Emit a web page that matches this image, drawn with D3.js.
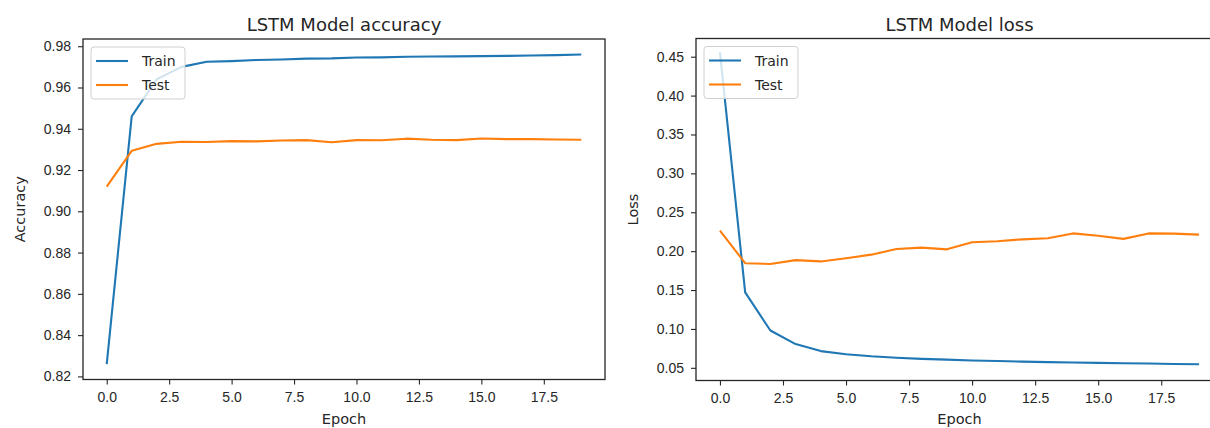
<!DOCTYPE html>
<html>
<head>
<meta charset="utf-8">
<script src="https://cdn.jsdelivr.net/npm/d3@7"></script>
<style>
  html, body { margin: 0; padding: 0; background: #fff; }
  svg { display: block; font-family: "DejaVu Sans", sans-serif; }
  .axis text { font-size: 14px; fill: #262626; }
  .axis line { stroke: #262626; stroke-width: 1.1; }
</style>
</head>
<body>
<div id="chart"></div>
<script>
// epochs 0..19
const epochs = d3.range(20);

const accTrain = [0.826, 0.946, 0.964, 0.970, 0.9725, 0.9728, 0.9733, 0.9736, 0.974, 0.9741,
                  0.9745, 0.9746, 0.9749, 0.975, 0.9751, 0.9752, 0.9753, 0.9755, 0.9757, 0.976];
const accTest = [0.912, 0.9293, 0.9327, 0.9337, 0.9336, 0.934, 0.9339, 0.9343, 0.9345, 0.9335,
                 0.9345, 0.9344, 0.9352, 0.9347, 0.9345, 0.9353, 0.935, 0.935, 0.9348, 0.9347];

const lossTrain = [0.4557, 0.147, 0.098, 0.0805, 0.0715, 0.0675, 0.0648, 0.063, 0.0615, 0.0605,
                   0.0595, 0.0588, 0.058, 0.0573, 0.0568, 0.0563, 0.0558, 0.0555, 0.055, 0.0545];
const lossTest = [0.2265, 0.1845, 0.1835, 0.1885, 0.1868, 0.1908, 0.1955, 0.2028, 0.2045, 0.2023,
                  0.2115, 0.2128, 0.2152, 0.2165, 0.2228, 0.2198, 0.2158, 0.2228, 0.2225, 0.2213];

const accTicks = [0.82, 0.84, 0.86, 0.88, 0.90, 0.92, 0.94, 0.96, 0.98];
const lossTicks = [0.05, 0.10, 0.15, 0.20, 0.25, 0.30, 0.35, 0.40, 0.45];
const epochTicks = [0, 2.5, 5, 7.5, 10, 12.5, 15, 17.5];

const seriesNames = ['Train', 'Test'];
const colors = ['#1f77b4', '#ff7f0e'];

const W = 1210, H = 428;
const svg = d3.select('#chart').append('svg')
    .attr('width', W)
    .attr('height', H);

function drawPanel(opt) {
    const x = d3.scaleLinear().domain([-0.95, 19.95]).range([opt.left, opt.right]);
    const y = d3.scaleLinear().domain(opt.yDomain).range([opt.bottom, opt.top]);
    const g = svg.append('g');

    // lines
    const line = d3.line().x((d, i) => x(epochs[i])).y(d => y(d));
    opt.series.forEach((s, k) => {
        g.append('path')
            .datum(s)
            .attr('d', line)
            .attr('fill', 'none')
            .attr('stroke', colors[k])
            .attr('stroke-width', 2.1)
            .attr('stroke-linejoin', 'round');
    });

    // axes
    const xa = g.append('g')
        .attr('class', 'axis')
        .attr('transform', `translate(0,${opt.bottom})`)
        .call(d3.axisBottom(x).tickValues(epochTicks).tickFormat(d3.format('.1f'))
            .tickSizeInner(5).tickSizeOuter(0).tickPadding(8));
    xa.select('.domain').remove();

    const ya = g.append('g')
        .attr('class', 'axis')
        .attr('transform', `translate(${opt.left},0)`)
        .call(d3.axisLeft(y).tickValues(opt.yTicks).tickFormat(d3.format('.2f'))
            .tickSizeInner(5).tickSizeOuter(0).tickPadding(7));
    ya.select('.domain').remove();

    // frame
    g.append('rect')
        .attr('x', opt.left)
        .attr('y', opt.top)
        .attr('width', opt.right - opt.left)
        .attr('height', opt.bottom - opt.top)
        .attr('fill', 'none')
        .attr('stroke', '#262626')
        .attr('stroke-width', 1.3);

    // title and labels
    const cx = (opt.left + opt.right) / 2;
    g.append('text')
        .attr('x', cx).attr('y', 31)
        .attr('text-anchor', 'middle')
        .attr('font-size', 18)
        .attr('fill', '#262626')
        .text(opt.title);

    g.append('text')
        .attr('x', cx).attr('y', 423.5)
        .attr('text-anchor', 'middle')
        .attr('font-size', 14.5)
        .attr('fill', '#262626')
        .text('Epoch');

    g.append('text')
        .attr('transform', `translate(${opt.left - 58},${(opt.top + opt.bottom) / 2}) rotate(-90)`)
        .attr('text-anchor', 'middle')
        .attr('font-size', 14.5)
        .attr('fill', '#262626')
        .text(opt.yLabel);

    // legend
    const lg = g.append('g').attr('transform', `translate(${opt.left + 8},${opt.top + 8})`);
    lg.append('rect')
        .attr('width', 94).attr('height', 52)
        .attr('rx', 3)
        .attr('fill', '#fff').attr('fill-opacity', 0.8)
        .attr('stroke', '#d0d0d0').attr('stroke-width', 1);
    seriesNames.forEach((name, k) => {
        const ly = 14 + k * 24;
        lg.append('line')
            .attr('x1', 5).attr('x2', 37)
            .attr('y1', ly).attr('y2', ly)
            .attr('stroke', colors[k]).attr('stroke-width', 2.1);
        lg.append('text')
            .attr('x', 51).attr('y', ly + 5)
            .attr('font-size', 14)
            .attr('fill', '#262626')
            .text(name);
    });
}

drawPanel({
    left: 83, right: 605, top: 39, bottom: 379.5,
    yDomain: [0.8185, 0.9835],
    yTicks: accTicks,
    series: [accTrain, accTest],
    title: 'LSTM Model accuracy',
    yLabel: 'Accuracy'
});

drawPanel({
    left: 696, right: 1223, top: 38.5, bottom: 380.5,
    yDomain: [0.0337, 0.4734],
    yTicks: lossTicks,
    series: [lossTrain, lossTest],
    title: 'LSTM Model loss',
    yLabel: 'Loss'
});
</script>
</body>
</html>
